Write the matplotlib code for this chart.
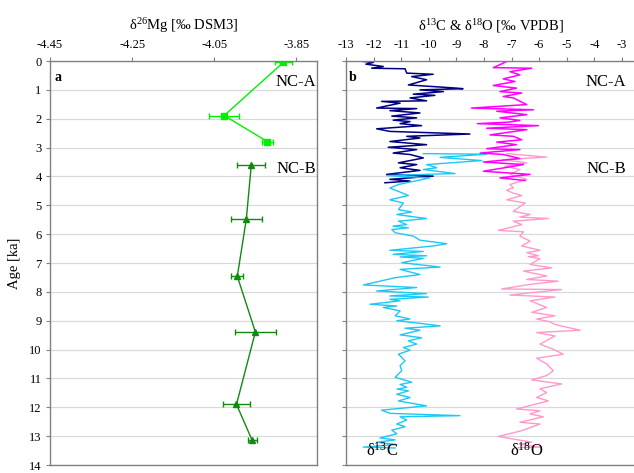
import matplotlib
matplotlib.use("Agg")
import matplotlib.pyplot as plt

plt.rcParams['font.family'] = ['Liberation Serif', 'DejaVu Serif']
plt.rcParams['mathtext.default'] = 'regular'

# Mg isotopes, panel a
nca_age = [0.05, 1.89, 2.79]
nca_mg = [-3.882, -4.026, -3.921]
nca_err = [0.020, 0.036, 0.013]
ncb_age = [3.61, 5.47, 7.46, 9.39, 11.90, 13.14]
ncb_mg = [-3.960, -3.972, -3.994, -3.950, -3.996, -3.958]
ncb_err = [0.034, 0.038, 0.015, 0.049, 0.034, 0.011]

# d13C, NC-A (dark) and NC-B (light)
c_a_age = [0.00, 0.05, 0.11, 0.19, 0.25, 0.27, 0.42, 0.46, 0.54, 0.65, 0.83, 0.94, 0.96,
           1.00, 1.06, 1.15, 1.19, 1.28, 1.38, 1.40, 1.46, 1.63, 1.65, 1.72, 1.80, 1.91,
           1.97, 2.05, 2.10, 2.17, 2.24, 2.35, 2.44, 2.53, 2.61, 2.67, 2.79, 2.90, 2.99,
           3.07, 3.19, 3.24, 3.36, 3.53, 3.59, 3.70, 3.79, 3.93, 3.99, 4.10, 4.16, 4.22]
c_a_val = [-12.52, -12.01, -12.28, -11.65, -12.07, -10.86, -10.80, -9.84, -10.62, -10.08,
           -10.74, -8.99, -8.76, -10.32, -9.47, -10.56, -9.78, -10.68, -10.08, -11.71,
           -11.04, -11.89, -10.44, -11.41, -10.32, -11.34, -10.44, -11.29, -10.68, -11.04,
           -10.26, -11.89, -11.41, -8.51, -10.80, -10.32, -11.41, -10.08, -11.47, -10.44,
           -11.29, -10.68, -10.20, -11.10, -10.44, -11.04, -10.32, -11.53, -9.84, -11.41,
           -10.68, -11.59]
c_b_age = [3.21, 3.23, 3.34, 3.45, 3.59, 3.70, 3.76, 3.90, 3.97, 4.05, 4.28, 4.40, 4.52,
           4.66, 4.81, 4.92, 5.15, 5.23, 5.32, 5.46, 5.55, 5.67, 5.72, 5.78, 5.84, 5.95,
           6.07, 6.21, 6.33, 6.41, 6.56, 6.60, 6.70, 6.75, 6.79, 6.84, 6.99, 7.14, 7.22,
           7.40, 7.51, 7.76, 7.85, 7.97, 8.06, 8.14, 8.18, 8.26, 8.31, 8.43, 8.49, 8.54,
           8.66, 8.83, 8.94, 9.00, 9.09, 9.18, 9.26, 9.33, 9.49, 9.59, 9.70, 9.81, 9.93,
           10.02, 10.16, 10.39, 10.56, 10.73, 10.96, 11.13, 11.21, 11.31, 11.37, 11.43,
           11.55, 11.66, 11.78, 11.95, 12.10, 12.21, 12.29, 12.33, 12.44, 12.58, 12.67,
           12.79, 12.92, 13.06, 13.13, 13.21, 13.29, 13.38, 13.41]
c_b_val = [-10.20, -7.90, -9.59, -8.08, -10.08, -9.71, -10.20, -9.05, -11.53, -9.96,
           -11.10, -11.41, -11.10, -10.74, -11.41, -10.92, -11.10, -10.62, -11.16, -10.08,
           -11.10, -10.80, -11.30, -10.74, -11.34, -11.22, -10.56, -10.32, -9.35, -9.84,
           -11.41, -10.20, -11.29, -10.08, -11.04, -10.20, -10.98, -9.59, -11.04, -10.32,
           -11.22, -12.37, -10.44, -11.89, -10.08, -11.41, -10.02, -11.41, -11.04, -12.13,
           -11.16, -11.65, -11.04, -11.22, -10.68, -11.16, -10.32, -9.59, -10.86, -10.32,
           -11.04, -10.26, -10.74, -10.44, -10.92, -10.68, -11.10, -10.86, -11.04, -10.98,
           -11.22, -10.62, -11.04, -10.80, -11.15, -10.74, -11.16, -10.68, -11.10, -10.08,
           -11.71, -11.41, -8.87, -11.04, -10.80, -11.16, -10.86, -11.34, -11.16, -11.77,
           -11.22, -11.89, -11.16, -12.37, -11.22]

# d18O, NC-A (dark) and NC-B (light)
o_a_age = [0.00, 0.02, 0.23, 0.25, 0.37, 0.48, 0.62, 0.71, 0.85, 0.94, 1.06, 1.11, 1.23,
           1.28, 1.51, 1.63, 1.69, 1.74, 1.86, 1.97, 2.06, 2.12, 2.17, 2.24, 2.33, 2.38,
           2.56, 2.61, 2.73, 2.81, 2.90, 3.04, 3.07, 3.19, 3.24, 3.38, 3.50, 3.59, 3.82,
           3.93, 4.05, 4.14]
o_a_val = [-7.42, -7.18, -7.66, -6.27, -7.06, -6.70, -7.30, -6.88, -7.66, -6.82, -7.42,
           -6.63, -7.30, -6.94, -6.45, -8.45, -6.21, -7.54, -6.45, -7.42, -6.70, -7.12,
           -8.24, -6.03, -7.90, -6.45, -7.78, -6.94, -6.63, -7.54, -6.82, -7.90, -6.70,
           -8.14, -7.30, -6.70, -8.02, -6.57, -8.02, -6.33, -7.42, -6.51]
o_b_age = [3.21, 3.33, 3.42, 3.53, 3.65, 3.76, 3.93, 4.10, 4.28, 4.39, 4.48, 4.58, 4.66,
           4.81, 4.92, 5.21, 5.32, 5.41, 5.46, 5.55, 5.67, 5.87, 5.92, 6.07, 6.24, 6.41,
           6.56, 6.64, 6.75, 6.78, 6.85, 7.05, 7.17, 7.28, 7.45, 7.57, 7.63, 7.74, 7.90,
           7.92, 8.11, 8.18, 8.31, 8.54, 8.71, 8.83, 8.94, 9.04, 9.13, 9.33, 9.41, 9.53,
           9.81, 9.99, 10.16, 10.30, 10.50, 10.73, 10.90, 11.05, 11.19, 11.36, 11.49,
           11.66, 11.78, 12.06, 12.12, 12.23, 12.33, 12.52, 12.58, 12.81, 13.01, 13.10,
           13.21, 13.29, 13.38, 13.40]
o_b_val = [-7.18, -5.73, -7.30, -6.45, -7.24, -6.70, -7.06, -6.45, -7.06, -6.94, -7.18,
           -6.94, -6.63, -7.18, -6.51, -6.94, -6.33, -6.70, -5.67, -6.94, -6.63, -7.48,
           -6.57, -6.70, -6.33, -6.63, -5.97, -6.45, -6.03, -6.40, -5.97, -6.33, -5.55,
           -6.57, -5.73, -6.45, -5.31, -6.33, -7.36, -5.19, -7.06, -5.43, -6.33, -5.73,
           -6.27, -5.43, -6.09, -5.60, -5.43, -4.52, -6.09, -5.43, -5.97, -5.49, -5.13,
           -6.09, -5.73, -5.49, -5.73, -6.27, -5.19, -5.97, -5.73, -6.09, -5.67, -6.82,
           -5.97, -6.33, -5.85, -6.70, -5.97, -6.63, -7.48, -6.94, -6.27, -6.70, -5.97,
           -6.76]

mg_ticks = [-4.45, -4.25, -4.05, -3.85]
iso_ticks = list(range(-13, -2))
age_ticks = list(range(0, 15))

W, H = 634, 473
fig = plt.figure(figsize=(W / 100, H / 100), dpi=100)
ax1 = fig.add_axes([50 / W, 8 / H, 267 / W, 404 / H])
ax2 = fig.add_axes([346 / W, 8 / H, 290 / W, 404 / H])

grey = '#808080'
for ax in (ax1, ax2):
    ax.set_ylim(14, 0)
    ax.set_yticks(age_ticks)
    ax.xaxis.tick_top()
    ax.xaxis.set_label_position('top')
    ax.grid(axis='y', color='#d9d9d9', lw=0.9)
    ax.set_axisbelow(True)
    ax.tick_params(axis='both', direction='out', length=3, width=0.8, color=grey,
                   labelsize=9)
    ax.tick_params(axis='x', pad=4.5)
    ax.tick_params(axis='y', pad=3)
    for s in ax.spines.values():
        s.set_color(grey)
        s.set_linewidth(1.0)

# panel a
ax1.set_xlim(-4.45, -3.80)
ax1.set_xticks(mg_ticks)
ax1.set_xticklabels(['%.2f' % t for t in mg_ticks])
ax1.errorbar(nca_mg, nca_age, xerr=nca_err, color='#00f000', marker='s', ms=5,
             lw=1.0, elinewidth=1.0, capsize=2.5, capthick=1.0)
ax1.errorbar(ncb_mg, ncb_age, xerr=ncb_err, color='#128a12', marker='^', ms=5,
             lw=1.0, elinewidth=1.0, capsize=2.5, capthick=1.0)
ax1.set_xlabel('δ$^{26}$Mg [‰ DSM3]', fontsize=10.5, labelpad=6)
ax1.set_ylabel('Age [ka]', fontsize=10.5, labelpad=6)
ax1.text(0.015, 0.975, 'a', transform=ax1.transAxes, fontsize=10, fontweight='bold',
         va='top', ha='left')
ax1.text(0.995, 0.947, 'NC-A', transform=ax1.transAxes, fontsize=12, va='center', ha='right')
ax1.text(0.995, 0.733, 'NC-B', transform=ax1.transAxes, fontsize=12, va='center', ha='right')

# panel b
ax2.set_xlim(-13, -13 + 290 / 27.6)
ax2.set_xticks(iso_ticks)
ax2.set_xticklabels([str(t) for t in iso_ticks])
ax2.tick_params(axis='y', labelleft=False)
ax2.spines['right'].set_visible(False)
ax2.plot(c_a_val, c_a_age, color='#000080', lw=1.1)
ax2.plot(c_b_val, c_b_age, color='#1ec8f5', lw=1.0)
ax2.plot(o_b_val, o_b_age, color='#ff99cc', lw=1.0)
ax2.plot(o_a_val, o_a_age, color='#ff00ff', lw=1.1)
ax2.set_xlabel('δ$^{13}$C & δ$^{18}$O [‰ VPDB]', fontsize=10.5, labelpad=6)
ax2.text(0.008, 0.975, 'b', transform=ax2.transAxes, fontsize=10, fontweight='bold',
         va='top', ha='left')
ax2.text(0.965, 0.947, 'NC-A', transform=ax2.transAxes, fontsize=12, va='center', ha='right')
ax2.text(0.965, 0.733, 'NC-B', transform=ax2.transAxes, fontsize=12, va='center', ha='right')
ax2.text(0.07, 0.012, 'δ$^{13}$C', transform=ax2.transAxes, fontsize=12,
         va='bottom', ha='left')
ax2.text(0.565, 0.012, 'δ$^{18}$O', transform=ax2.transAxes, fontsize=12,
         va='bottom', ha='left')

fig.savefig('out.png', dpi=100)
